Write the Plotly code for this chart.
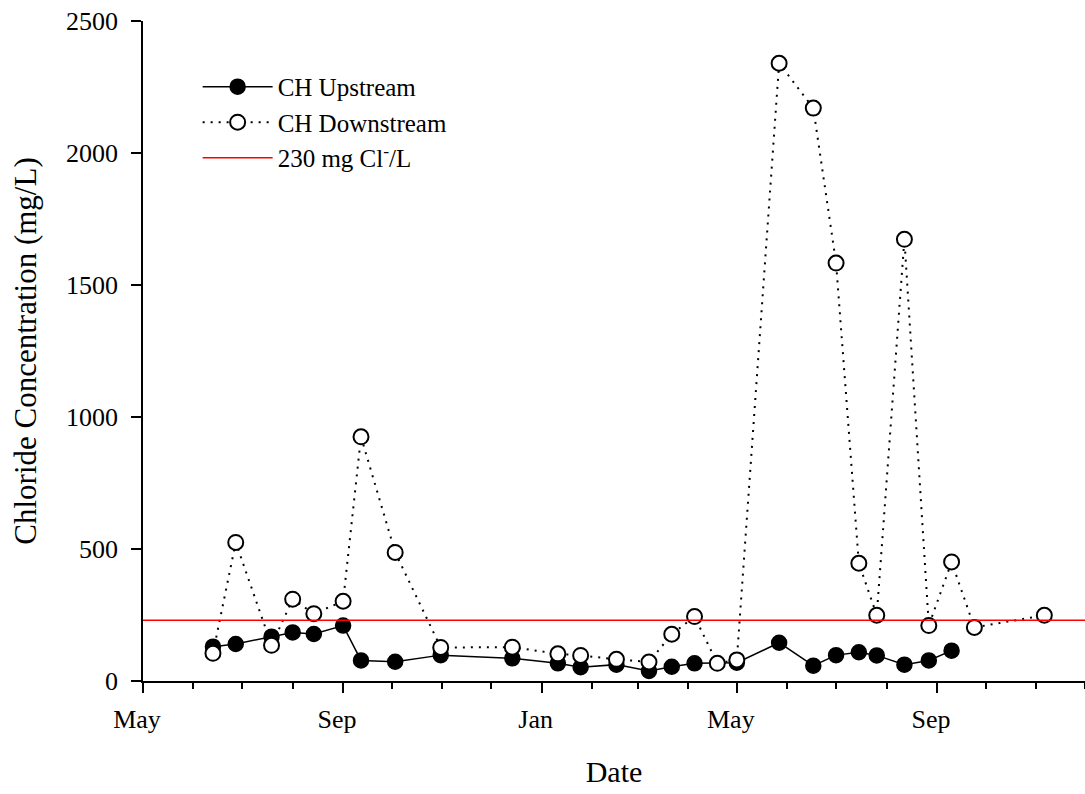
import plotly.graph_objects as go

# Sampling dates and chloride concentrations (mg/L)
up_dates = ["2010-06-13", "2010-06-27", "2010-07-19", "2010-08-01", "2010-08-14",
            "2010-09-01", "2010-09-12", "2010-10-03", "2010-10-31", "2010-12-14",
            "2011-01-11", "2011-01-25", "2011-02-16", "2011-03-08", "2011-03-22",
            "2011-04-05", "2011-05-01", "2011-05-27", "2011-06-17", "2011-07-01",
            "2011-07-15", "2011-07-26", "2011-08-12", "2011-08-27", "2011-09-10"]
up_values = [130, 140, 168, 184, 178,
             210, 78, 73, 98, 86,
             67, 52, 62, 38, 54,
             67, 69, 145, 58, 98,
             109, 97, 62, 78, 115]

down_dates = ["2010-06-13", "2010-06-27", "2010-07-19", "2010-08-01", "2010-08-14",
              "2010-09-01", "2010-09-12", "2010-10-03", "2010-10-31", "2010-12-14",
              "2011-01-11", "2011-01-25", "2011-02-16", "2011-03-08", "2011-03-22",
              "2011-04-05", "2011-04-19", "2011-05-01", "2011-05-27", "2011-06-17",
              "2011-07-01", "2011-07-15", "2011-07-26", "2011-08-12", "2011-08-27",
              "2011-09-10", "2011-09-24", "2011-11-06"]
down_values = [105, 525, 135, 310, 255,
               302, 925, 487, 127, 128,
               103, 97, 82, 72, 177,
               244, 67, 80, 2340, 2170,
               1583, 446, 249, 1673, 210,
               451, 203, 249]

threshold = 230
date_range = ["2010-05-01", "2011-12-01"]

x_tick_vals = ["2010-05-01", "2010-09-01", "2011-01-01", "2011-05-01", "2011-09-01"]
x_tick_text = ["May", "Sep", "Jan", "May", "Sep"]
y_tick_vals = [0, 500, 1000, 1500, 2000, 2500]

font_family = "Liberation Serif, Times New Roman, serif"

fig = go.Figure()

fig.add_trace(go.Scatter(
    x=up_dates, y=up_values, name="CH Upstream",
    mode="lines+markers",
    line=dict(color="black", width=1.5),
    marker=dict(symbol="circle", size=15, color="black",
                line=dict(color="black", width=1.5)),
))

fig.add_trace(go.Scatter(
    x=down_dates, y=down_values, name="CH Downstream",
    mode="lines+markers",
    line=dict(color="black", width=2, dash="2px,6px"),
    marker=dict(symbol="circle", size=15, color="white",
                line=dict(color="black", width=2)),
))

fig.add_trace(go.Scatter(
    x=date_range, y=[threshold, threshold], name="230 mg Cl<sup>-</sup>/L",
    mode="lines",
    line=dict(color="red", width=1.5),
))

fig.update_layout(
    width=1085, height=794,
    margin=dict(l=143, r=0, t=21, b=113),
    paper_bgcolor="white", plot_bgcolor="white",
    font=dict(family=font_family, size=26, color="black"),
    showlegend=True,
    legend=dict(x=0.058, y=0.935, xanchor="left", yanchor="top",
                bgcolor="rgba(0,0,0,0)", itemwidth=70,
                font=dict(family=font_family, size=25)),
    xaxis=dict(
        type="date", range=date_range,
        showgrid=False, zeroline=False,
        showline=True, linecolor="black", linewidth=1.5,
        ticks="outside", ticklen=10, tickwidth=1.5, tickcolor="black",
        tickvals=x_tick_vals, ticktext=x_tick_text,
        ticklabelstandoff=4, ticklabelshift=-6,
        minor=dict(ticks="outside", ticklen=6, tickwidth=1.5, tickcolor="black",
                   dtick="M1", tick0="2010-05-01", showgrid=False),
        title=dict(text="Date", font=dict(family=font_family, size=30), standoff=28),
    ),
    yaxis=dict(
        range=[0, 2500],
        showgrid=False, zeroline=False,
        showline=True, linecolor="black", linewidth=1.5,
        ticks="outside", ticklen=10, tickwidth=1.5, tickcolor="black",
        tickvals=y_tick_vals,
        ticklabelstandoff=8,
        title=dict(text="Chloride Concentration (mg/L)",
                   font=dict(family=font_family, size=31), standoff=20),
    ),
)

fig.write_html("out.html")
